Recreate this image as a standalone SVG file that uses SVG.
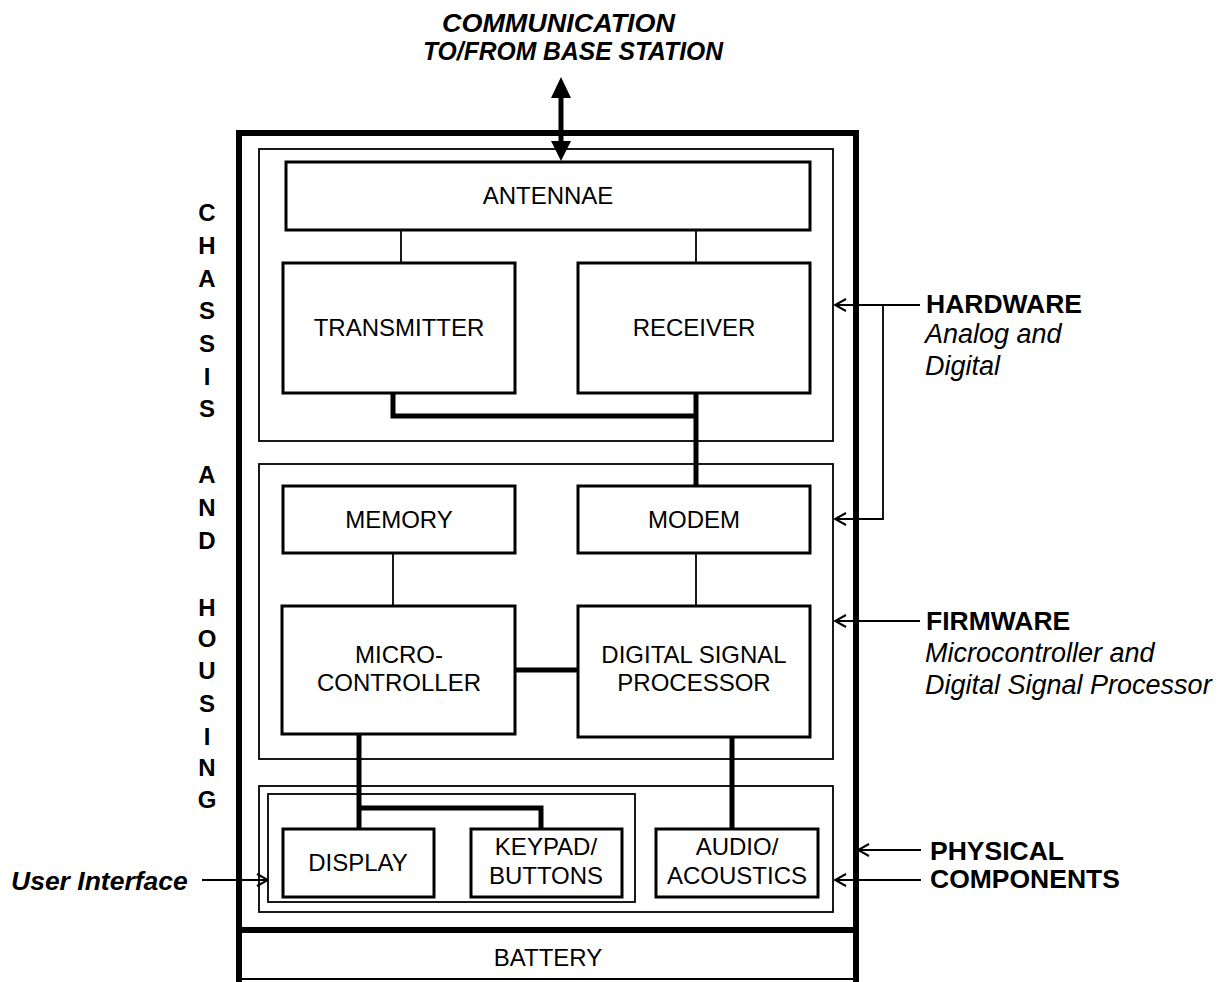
<svg xmlns="http://www.w3.org/2000/svg" width="1232" height="982" viewBox="0 0 1232 982">
<defs>
<style>
.box{fill:#fff;stroke:#000;stroke-width:3}
.sec{fill:none;stroke:#000;stroke-width:1.8}
.outer{fill:none;stroke:#000;stroke-width:6}
.thin{fill:none;stroke:#000;stroke-width:1.8}
.thick{fill:none;stroke:#000;stroke-width:5}
.lbl{font-family:"Liberation Sans",Arial,sans-serif;font-size:24px;text-anchor:middle;fill:#000}
.side{font-family:"Liberation Sans",Arial,sans-serif;font-size:27px;fill:#000}
.sb{font-family:"Liberation Sans",Arial,sans-serif;font-size:26.5px;font-weight:bold;fill:#000}
.b{font-weight:bold}
.i{font-style:italic}
.vl{font-family:"Liberation Sans",Arial,sans-serif;font-size:24px;font-weight:bold;text-anchor:middle;fill:#000}
</style>
<marker id="open" viewBox="0 0 14 14" refX="13" refY="7" markerWidth="14" markerHeight="14" markerUnits="userSpaceOnUse" orient="auto">
<path d="M2,1 L13,7 L2,13" fill="none" stroke="#000" stroke-width="2"/>
</marker>
</defs>

<g id="title">
<text class="sb i" x="442" y="32" textLength="233" lengthAdjust="spacingAndGlyphs">COMMUNICATION</text>
<text class="sb i" x="423" y="60" textLength="300" lengthAdjust="spacingAndGlyphs">TO/FROM BASE STATION</text>
</g>

<g id="chassis">
<rect class="outer" x="239" y="133" width="617" height="797"/>
<line x1="239" y1="930" x2="239" y2="982" stroke="#000" stroke-width="6"/>
<line x1="856" y1="930" x2="856" y2="982" stroke="#000" stroke-width="6"/>
</g>
<g id="battery">
<line x1="239" y1="979" x2="856" y2="979" stroke="#000" stroke-width="2"/>
<text class="lbl" x="548" y="966">BATTERY</text>
</g>

<g id="chassis-label">
<text class="vl" x="207" y="221">C</text>
<text class="vl" x="207" y="254">H</text>
<text class="vl" x="207" y="287">A</text>
<text class="vl" x="207" y="319">S</text>
<text class="vl" x="207" y="352">S</text>
<text class="vl" x="207" y="385">I</text>
<text class="vl" x="207" y="417">S</text>
<text class="vl" x="207" y="483">A</text>
<text class="vl" x="207" y="516">N</text>
<text class="vl" x="207" y="549">D</text>
<text class="vl" x="207" y="616">H</text>
<text class="vl" x="207" y="647">O</text>
<text class="vl" x="207" y="679">U</text>
<text class="vl" x="207" y="712">S</text>
<text class="vl" x="207" y="745">I</text>
<text class="vl" x="207" y="776">N</text>
<text class="vl" x="207" y="808">G</text>
</g>

<g id="hardware-section"><rect class="sec" x="259" y="149" width="574" height="292"/></g>
<g id="firmware-section"><rect class="sec" x="259" y="464" width="574" height="295"/></g>
<g id="physical-section"><rect class="sec" x="259" y="786" width="574" height="126"/></g>
<g id="ui-section"><rect class="sec" x="268" y="794" width="367" height="108"/></g>

<g id="connectors">
<line class="thick" x1="561" y1="96" x2="561" y2="142"/>
<path d="M551,98 L561,77 L571,98 Z" fill="#000"/>
<path d="M551,141 L561,161 L571,141 Z" fill="#000"/>
<line class="thin" x1="401" y1="230" x2="401" y2="263"/>
<line class="thin" x1="696" y1="230" x2="696" y2="263"/>
<polyline class="thick" points="393,393 393,416 696,416"/>
<line class="thick" x1="696" y1="393" x2="696" y2="486"/>
<line class="thin" x1="393" y1="553" x2="393" y2="606"/>
<line class="thin" x1="696" y1="553" x2="696" y2="606"/>
<line class="thick" x1="515" y1="670" x2="578" y2="670"/>
<line class="thick" x1="359" y1="734" x2="359" y2="829"/>
<polyline class="thick" points="359,808 541,808 541,829"/>
<line class="thick" x1="732" y1="737" x2="732" y2="829"/>
<line class="thin" x1="920" y1="305" x2="835" y2="305" marker-end="url(#open)"/>
<polyline class="thin" points="883,305 883,519 835,519" marker-end="url(#open)"/>
<line class="thin" x1="920" y1="621" x2="835" y2="621" marker-end="url(#open)"/>
<line class="thin" x1="921" y1="850" x2="858" y2="850" marker-end="url(#open)"/>
<line class="thin" x1="921" y1="880" x2="835" y2="880" marker-end="url(#open)"/>
<line class="thin" x1="202" y1="880" x2="268" y2="880" marker-end="url(#open)"/>
</g>

<g id="antennae"><rect class="box" x="286" y="162" width="524" height="68"/><text class="lbl" x="548" y="204">ANTENNAE</text></g>
<g id="transmitter"><rect class="box" x="283" y="263" width="232" height="130"/><text class="lbl" x="399" y="336">TRANSMITTER</text></g>
<g id="receiver"><rect class="box" x="578" y="263" width="232" height="130"/><text class="lbl" x="694" y="336">RECEIVER</text></g>
<g id="memory"><rect class="box" x="283" y="486" width="232" height="67"/><text class="lbl" x="399" y="528">MEMORY</text></g>
<g id="modem"><rect class="box" x="578" y="486" width="232" height="67"/><text class="lbl" x="694" y="528">MODEM</text></g>
<g id="microcontroller"><rect class="box" x="282" y="606" width="233" height="128"/><text class="lbl" x="399" y="663">MICRO-</text><text class="lbl" x="399" y="691">CONTROLLER</text></g>
<g id="dsp"><rect class="box" x="578" y="606" width="232" height="131"/><text class="lbl" x="694" y="663">DIGITAL SIGNAL</text><text class="lbl" x="694" y="691">PROCESSOR</text></g>
<g id="display"><rect class="box" x="283" y="829" width="151" height="68"/><text class="lbl" x="358" y="871">DISPLAY</text></g>
<g id="keypad"><rect class="box" x="471" y="829" width="151" height="68"/><text class="lbl" x="546" y="855">KEYPAD/</text><text class="lbl" x="546" y="884">BUTTONS</text></g>
<g id="audio"><rect class="box" x="656" y="829" width="162" height="68"/><text class="lbl" x="737" y="855">AUDIO/</text><text class="lbl" x="737" y="884">ACOUSTICS</text></g>

<g id="labels">
<text class="sb" x="926" y="313">HARDWARE</text>
<text class="side i" x="925" y="343">Analog and</text>
<text class="side i" x="925" y="375">Digital</text>
<text class="sb" x="926" y="630">FIRMWARE</text>
<text class="side i" x="925" y="662">Microcontroller and</text>
<text class="side i" x="925" y="694">Digital Signal Processor</text>
<text class="sb" x="930" y="860">PHYSICAL</text>
<text class="sb" x="930" y="888">COMPONENTS</text>
<text class="sb i" x="11" y="890">User Interface</text>
</g>
</svg>
